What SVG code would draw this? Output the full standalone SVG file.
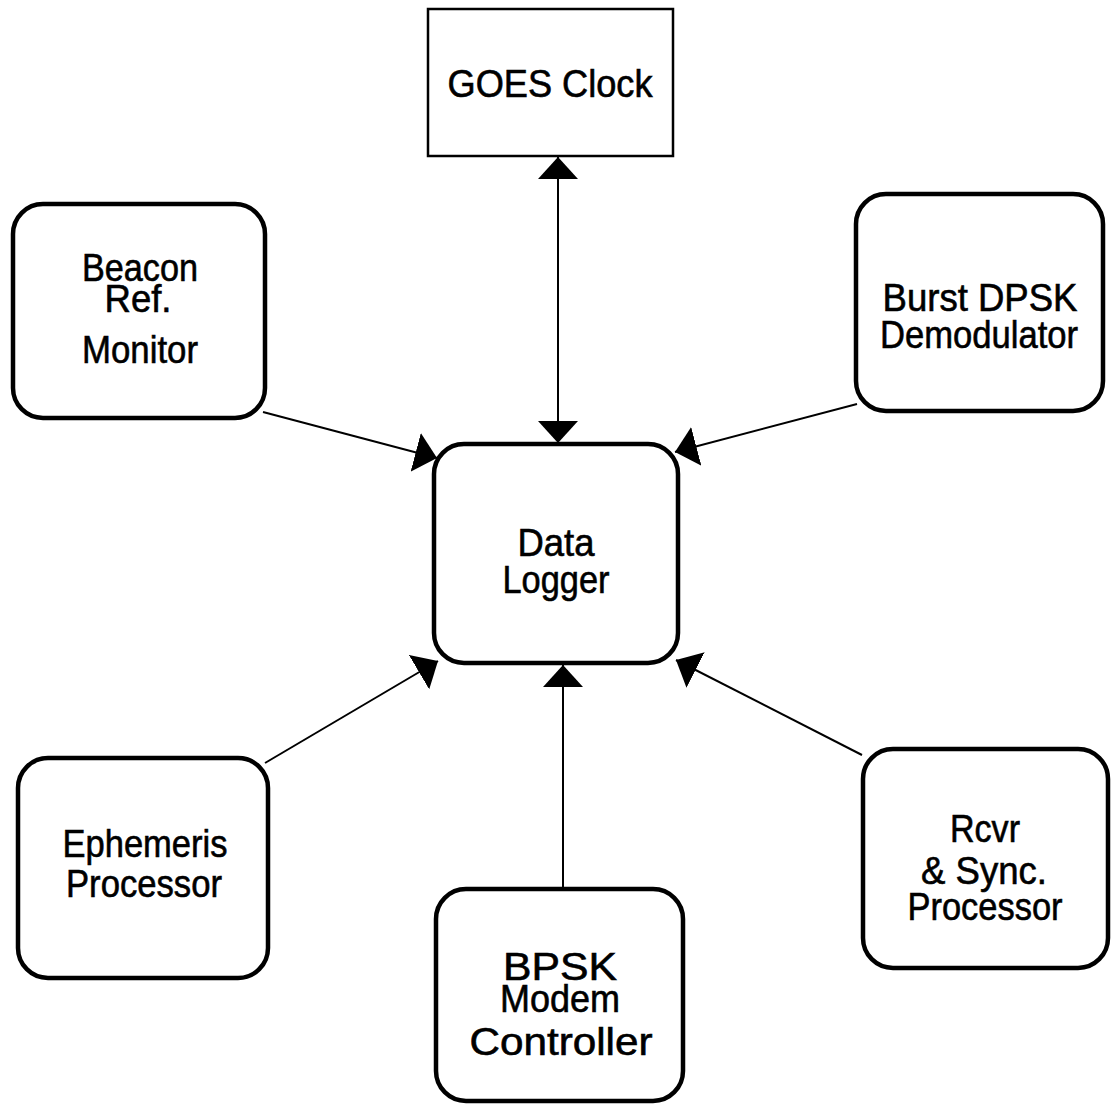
<svg xmlns="http://www.w3.org/2000/svg" width="1112" height="1105" viewBox="0 0 1112 1105">
<style>
.box{fill:#fff;stroke:#000;stroke-width:4.5}
.sq{fill:#fff;stroke:#000;stroke-width:2.5}
.lbl{font-family:"Liberation Sans",Arial,sans-serif;font-size:38px;fill:#000;stroke:#000;stroke-width:0.6;text-anchor:middle}
.conn{stroke:#000;stroke-width:2;fill:none}
</style>
<defs>
<marker id="ah" markerUnits="userSpaceOnUse" viewBox="0 0 22 40" refX="22" refY="20" markerWidth="22" markerHeight="40" orient="auto-start-reverse">
<path d="M0,0 L22,20 L0,40 Z" fill="#000"/>
</marker>
</defs>
<rect width="1112" height="1105" fill="#fff"/>
<g id="connectors">
<line class="conn" x1="558" y1="157" x2="558" y2="443" marker-start="url(#ah)" marker-end="url(#ah)"/>
<line class="conn" x1="263" y1="412" x2="437" y2="458" marker-end="url(#ah)"/>
<line class="conn" x1="857" y1="404" x2="675" y2="452" marker-end="url(#ah)"/>
<line class="conn" x1="265" y1="763" x2="438" y2="661" marker-end="url(#ah)"/>
<line class="conn" x1="563" y1="888" x2="563" y2="665" marker-end="url(#ah)"/>
<line class="conn" x1="862" y1="755" x2="676" y2="660" marker-end="url(#ah)"/>
</g>
<g id="goes">
<rect class="sq" x="428" y="9" width="245" height="147"/>
<text class="lbl" x="550" y="97" textLength="205" lengthAdjust="spacingAndGlyphs">GOES Clock</text>
</g>
<g id="beacon">
<rect class="box" x="13" y="204" width="252" height="214" rx="30"/>
<text class="lbl" x="140" y="281" textLength="116" lengthAdjust="spacingAndGlyphs">Beacon</text>
<text class="lbl" x="138" y="312" textLength="67" lengthAdjust="spacingAndGlyphs">Ref.</text>
<text class="lbl" x="140" y="363" textLength="116" lengthAdjust="spacingAndGlyphs">Monitor</text>
</g>
<g id="burst">
<rect class="box" x="856" y="194" width="247" height="217" rx="30"/>
<text class="lbl" x="980" y="311" textLength="195" lengthAdjust="spacingAndGlyphs">Burst DPSK</text>
<text class="lbl" x="979" y="348" textLength="198" lengthAdjust="spacingAndGlyphs">Demodulator</text>
</g>
<g id="logger">
<rect class="box" x="434" y="444" width="244" height="219" rx="30"/>
<text class="lbl" x="556" y="556" textLength="77" lengthAdjust="spacingAndGlyphs">Data</text>
<text class="lbl" x="556" y="593" textLength="107" lengthAdjust="spacingAndGlyphs">Logger</text>
</g>
<g id="ephemeris">
<rect class="box" x="18" y="758" width="250" height="220" rx="30"/>
<text class="lbl" x="145" y="857" textLength="165" lengthAdjust="spacingAndGlyphs">Ephemeris</text>
<text class="lbl" x="144" y="897" textLength="156" lengthAdjust="spacingAndGlyphs">Processor</text>
</g>
<g id="bpsk">
<rect class="box" x="436" y="889" width="247" height="212" rx="30"/>
<text class="lbl" x="560" y="980" textLength="114" lengthAdjust="spacingAndGlyphs">BPSK</text>
<text class="lbl" x="560" y="1012" textLength="120" lengthAdjust="spacingAndGlyphs">Modem</text>
<text class="lbl" x="561" y="1055" textLength="183" lengthAdjust="spacingAndGlyphs">Controller</text>
</g>
<g id="rcvr">
<rect class="box" x="863" y="749" width="245" height="219" rx="30"/>
<text class="lbl" x="985" y="842" textLength="70" lengthAdjust="spacingAndGlyphs">Rcvr</text>
<text class="lbl" x="984" y="884" textLength="126" lengthAdjust="spacingAndGlyphs">&amp; Sync.</text>
<text class="lbl" x="985" y="920" textLength="155" lengthAdjust="spacingAndGlyphs">Processor</text>
</g>
</svg>
